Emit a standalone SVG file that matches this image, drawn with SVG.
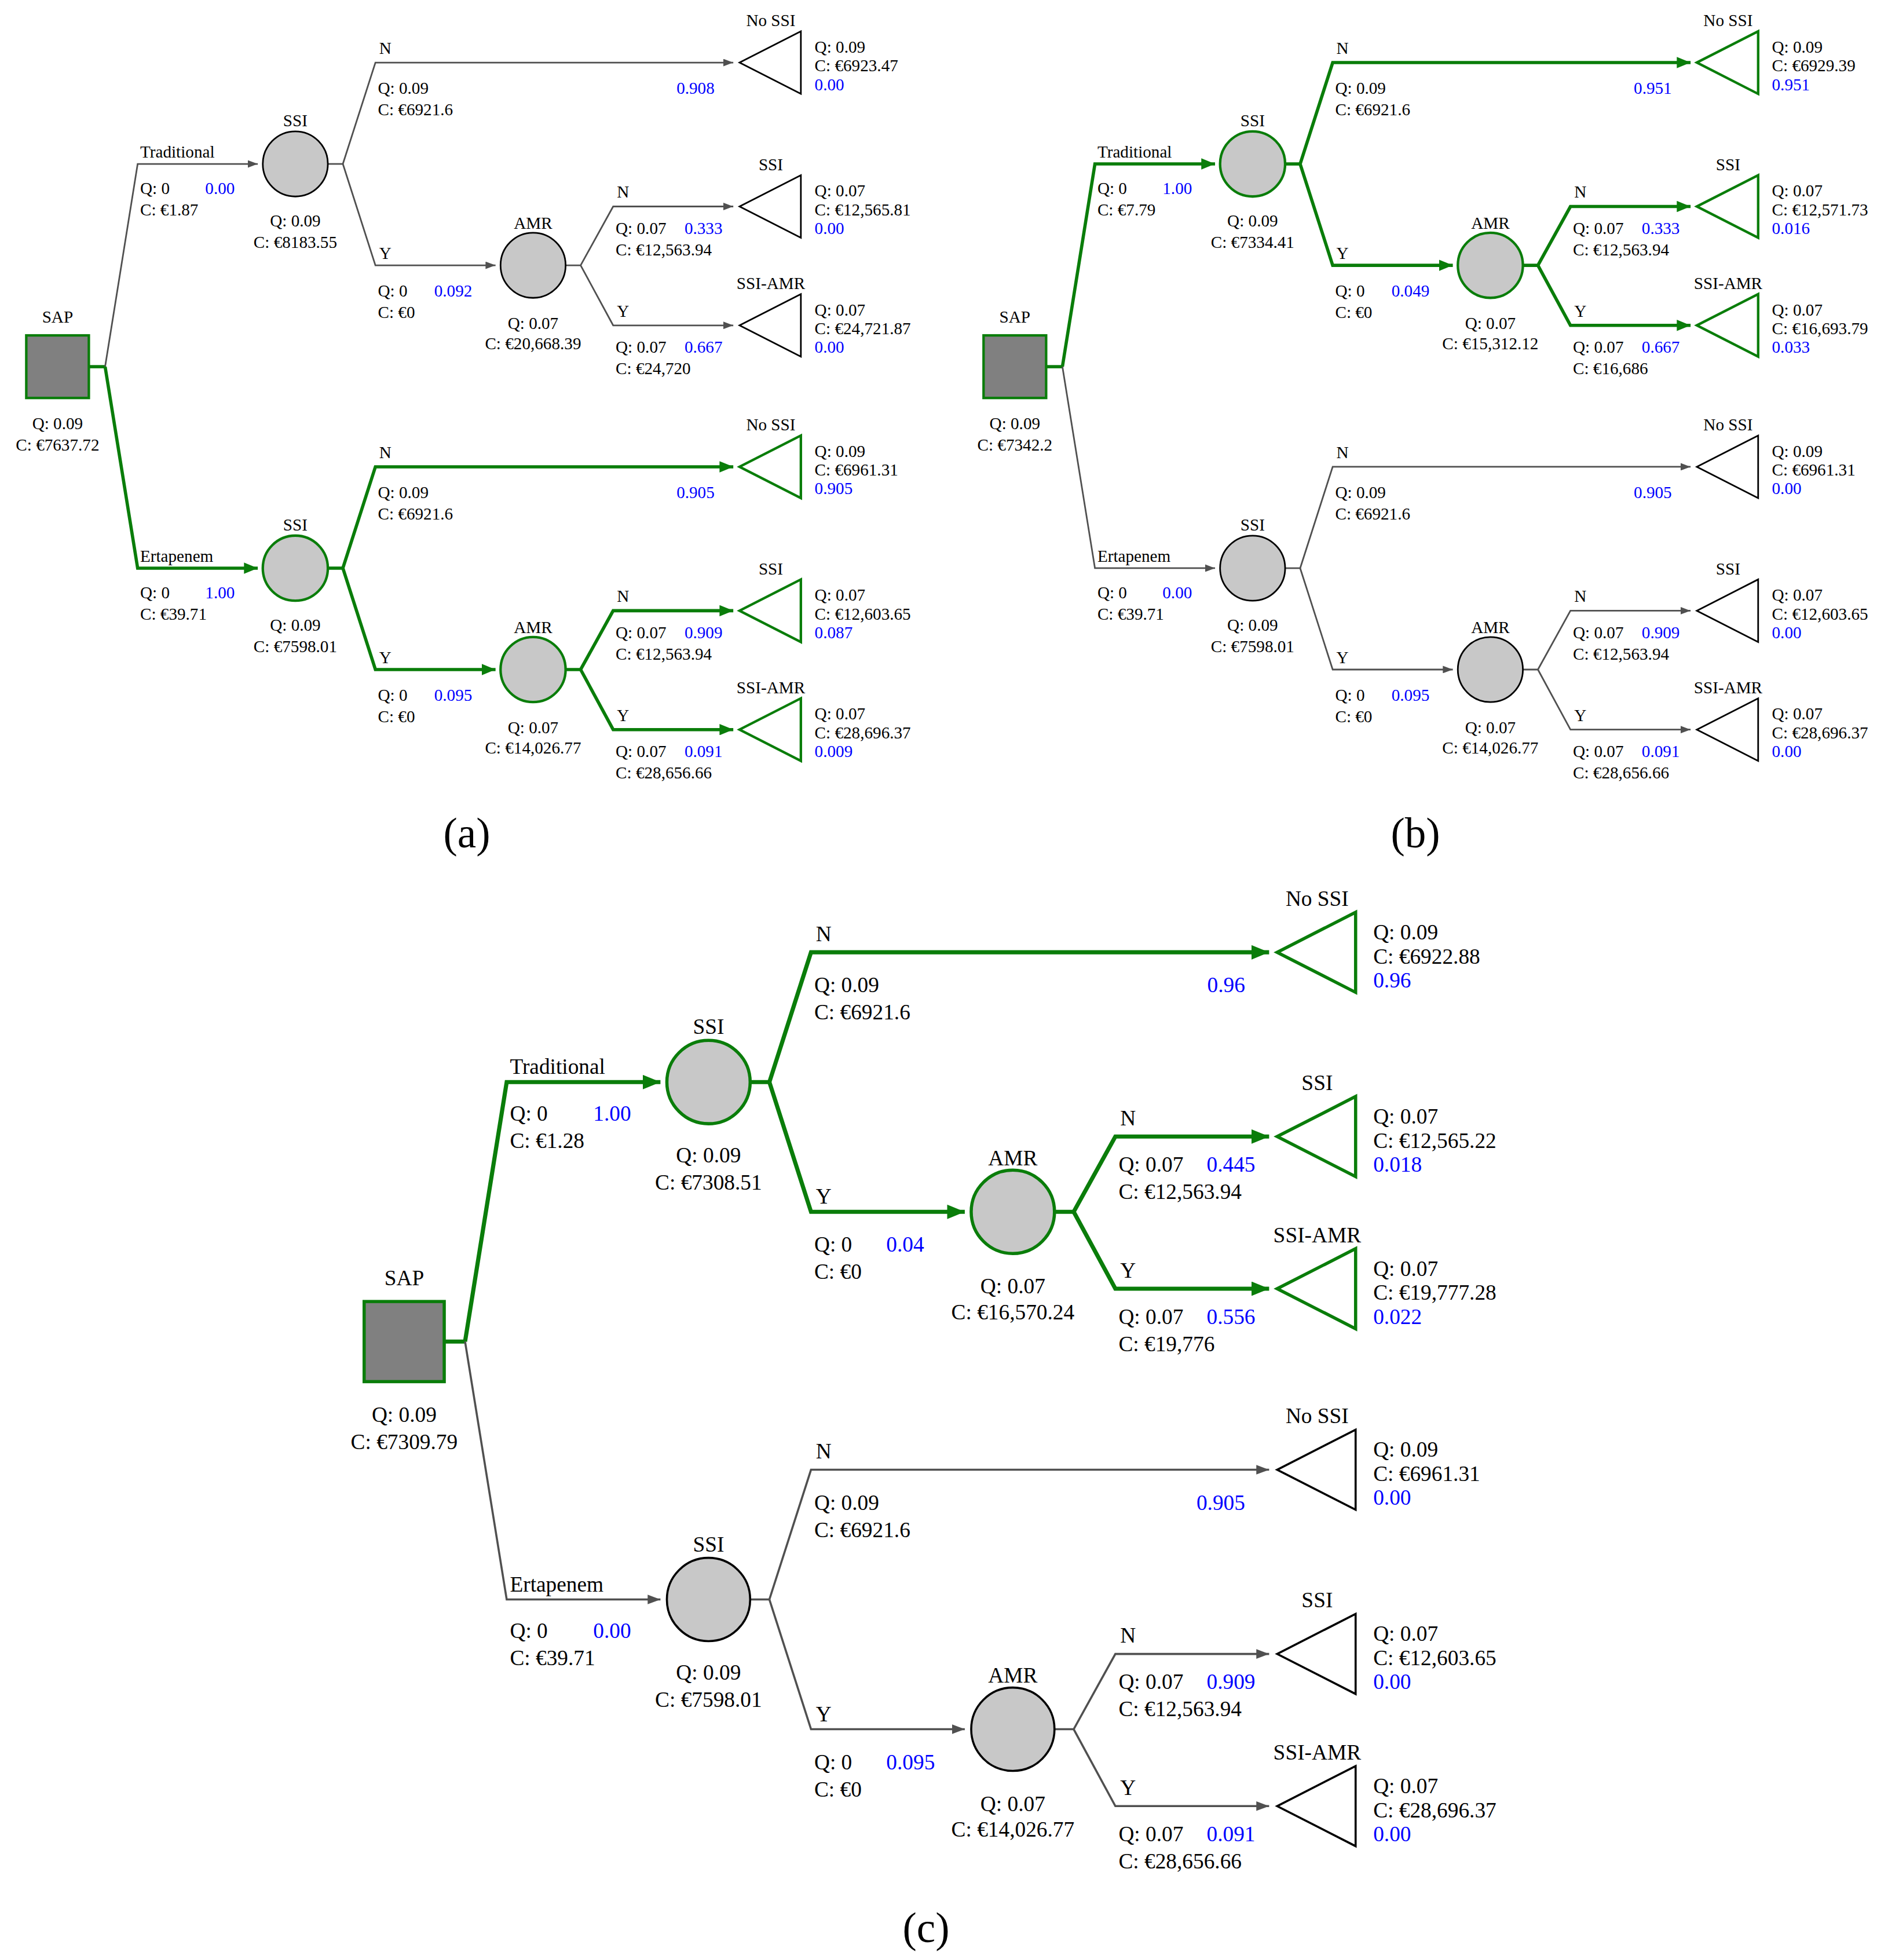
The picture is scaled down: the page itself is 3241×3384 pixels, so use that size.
<svg xmlns="http://www.w3.org/2000/svg" width="3241" height="3384" viewBox="0 0 3241 3384">
<style>
text{font-family:"Liberation Serif","Times New Roman",serif;font-size:13.5px;fill:#000}
.bl{fill:#0000ff}
.m{text-anchor:middle}
.e{text-anchor:end}
.k{fill:none;stroke:#505050;stroke-width:1.3}
.ka{fill:none;stroke:#505050;stroke-width:1.3;marker-end:url(#ak)}
.g{fill:none;stroke:#0a7d0a;stroke-width:2.6}
.ga{fill:none;stroke:#0a7d0a;stroke-width:2.6;marker-end:url(#ag)}
.ck{fill:#c8c8c8;stroke:#000;stroke-width:1.3}
.cg{fill:#c8c8c8;stroke:#0a7d0a;stroke-width:2}
.tk{fill:#fff;stroke:#000;stroke-width:1.3}
.tg{fill:#fff;stroke:#0a7d0a;stroke-width:2}
.sq{fill:#808080;stroke:#0a7d0a;stroke-width:2}
.pl{font-size:73px}
</style>
<defs>
<marker id="ak" viewBox="0 0 10 10" refX="10" refY="5" markerWidth="8" markerHeight="6" markerUnits="userSpaceOnUse" orient="auto" preserveAspectRatio="none"><path d="M0,0L10,5L0,10z" fill="#505050"/></marker>
<marker id="ag" viewBox="0 0 10 10" refX="10" refY="5" markerWidth="11" markerHeight="9" markerUnits="userSpaceOnUse" orient="auto" preserveAspectRatio="none"><path d="M0,0L10,5L0,10z" fill="#0a7d0a"/></marker>
</defs>
<rect width="3241" height="3384" fill="#fff"/>

<!-- PANEL A -->
<g id="panel-a" transform="scale(2.1607) translate(46,293)">
<g id="a-connectors">
<path class="g" d="M25,0L38,0"/>
<path class="ka" d="M38,0L64,-162L160,-162"/>
<path class="k" d="M216,-162L228,-162"/>
<path class="ka" d="M228,-162L254,-243L540,-243"/>
<path class="ka" d="M228,-162L254,-81L350,-81"/>
<path class="ka" d="M406,-81L418,-81L444,-128L540,-128"/>
<path class="ka" d="M418,-81L444,-33L540,-33"/>
<path class="ga" d="M38,0L64,161L160,161"/>
<path class="g" d="M216,161L228,161"/>
<path class="ga" d="M228,161L254,80L540,80"/>
<path class="ga" d="M228,161L254,242L350,242"/>
<path class="ga" d="M406,242L418,242L444,195L540,195"/>
<path class="ga" d="M418,242L444,290L540,290"/>
</g>
<g id="a-sap"><rect class="sq" x="-25" y="-25" width="50" height="50"/><text class="m" x="0" y="-35">SAP</text><text class="m" x="0" y="50">Q: 0.09</text><text class="m" x="0" y="67">C: €7637.72</text></g>
<g id="a-trad"><text x="66" y="-167">Traditional</text><text x="66" y="-138">Q: 0</text><text class="bl" x="118" y="-138">0.00</text><text x="66" y="-121">C: €1.87</text></g>
<g id="a-ssi1"><circle class="ck" cx="190" cy="-162" r="26"/><text class="m" x="190" y="-192">SSI</text><text class="m" x="190" y="-112">Q: 0.09</text><text class="m" x="190" y="-95">C: €8183.55</text></g>
<g id="a-n1"><text x="257" y="-250">N</text><text x="256" y="-218">Q: 0.09</text><text x="256" y="-201">C: €6921.6</text><text class="bl e" x="525" y="-218">0.908</text></g>
<g id="a-t1"><polygon class="tk" points="545,-243 594,-268 594,-218"/><text class="m" x="570" y="-272">No SSI</text><text x="605" y="-251">Q: 0.09</text><text x="605" y="-236">C: €6923.47</text><text class="bl" x="605" y="-221">0.00</text></g>
<g id="a-y1"><text x="257" y="-86">Y</text><text x="256" y="-56">Q: 0</text><text class="bl" x="301" y="-56">0.092</text><text x="256" y="-39">C: €0</text></g>
<g id="a-amr1"><circle class="ck" cx="380" cy="-81" r="26"/><text class="m" x="380" y="-110">AMR</text><text class="m" x="380" y="-30">Q: 0.07</text><text class="m" x="380" y="-14">C: €20,668.39</text></g>
<g id="a-an1"><text x="447" y="-135">N</text><text x="446" y="-106">Q: 0.07</text><text class="bl" x="501" y="-106">0.333</text><text x="446" y="-89">C: €12,563.94</text></g>
<g id="a-t2"><polygon class="tk" points="545,-128 594,-153 594,-103"/><text class="m" x="570" y="-157">SSI</text><text x="605" y="-136">Q: 0.07</text><text x="605" y="-121">C: €12,565.81</text><text class="bl" x="605" y="-106">0.00</text></g>
<g id="a-ay1"><text x="447" y="-40">Y</text><text x="446" y="-11">Q: 0.07</text><text class="bl" x="501" y="-11">0.667</text><text x="446" y="6">C: €24,720</text></g>
<g id="a-t3"><polygon class="tk" points="545,-33 594,-58 594,-8"/><text class="m" x="570" y="-62">SSI-AMR</text><text x="605" y="-41">Q: 0.07</text><text x="605" y="-26">C: €24,721.87</text><text class="bl" x="605" y="-11">0.00</text></g>
<g id="a-erta"><text x="66" y="156">Ertapenem</text><text x="66" y="185">Q: 0</text><text class="bl" x="118" y="185">1.00</text><text x="66" y="202">C: €39.71</text></g>
<g id="a-ssi2"><circle class="cg" cx="190" cy="161" r="26"/><text class="m" x="190" y="131">SSI</text><text class="m" x="190" y="211">Q: 0.09</text><text class="m" x="190" y="228">C: €7598.01</text></g>
<g id="a-n2"><text x="257" y="73">N</text><text x="256" y="105">Q: 0.09</text><text x="256" y="122">C: €6921.6</text><text class="bl e" x="525" y="105">0.905</text></g>
<g id="a-t4"><polygon class="tg" points="545,80 594,55 594,105"/><text class="m" x="570" y="51">No SSI</text><text x="605" y="72">Q: 0.09</text><text x="605" y="87">C: €6961.31</text><text class="bl" x="605" y="102">0.905</text></g>
<g id="a-y2"><text x="257" y="237">Y</text><text x="256" y="267">Q: 0</text><text class="bl" x="301" y="267">0.095</text><text x="256" y="284">C: €0</text></g>
<g id="a-amr2"><circle class="cg" cx="380" cy="242" r="26"/><text class="m" x="380" y="213">AMR</text><text class="m" x="380" y="293">Q: 0.07</text><text class="m" x="380" y="309">C: €14,026.77</text></g>
<g id="a-an2"><text x="447" y="188">N</text><text x="446" y="217">Q: 0.07</text><text class="bl" x="501" y="217">0.909</text><text x="446" y="234">C: €12,563.94</text></g>
<g id="a-t5"><polygon class="tg" points="545,195 594,170 594,220"/><text class="m" x="570" y="166">SSI</text><text x="605" y="187">Q: 0.07</text><text x="605" y="202">C: €12,603.65</text><text class="bl" x="605" y="217">0.087</text></g>
<g id="a-ay2"><text x="447" y="283">Y</text><text x="446" y="312">Q: 0.07</text><text class="bl" x="501" y="312">0.091</text><text x="446" y="329">C: €28,656.66</text></g>
<g id="a-t6"><polygon class="tg" points="545,290 594,265 594,315"/><text class="m" x="570" y="261">SSI-AMR</text><text x="605" y="282">Q: 0.07</text><text x="605" y="297">C: €28,696.37</text><text class="bl" x="605" y="312">0.009</text></g>
</g>

<!-- PANEL B -->
<g id="panel-b" transform="scale(2.1607) translate(811,293)">
<g id="b-connectors">
<path class="g" d="M25,0L38,0"/>
<path class="ga" d="M38,0L64,-162L160,-162"/>
<path class="g" d="M216,-162L228,-162"/>
<path class="ga" d="M228,-162L254,-243L540,-243"/>
<path class="ga" d="M228,-162L254,-81L350,-81"/>
<path class="ga" d="M406,-81L418,-81L444,-128L540,-128"/>
<path class="ga" d="M418,-81L444,-33L540,-33"/>
<path class="ka" d="M38,0L64,161L160,161"/>
<path class="k" d="M216,161L228,161"/>
<path class="ka" d="M228,161L254,80L540,80"/>
<path class="ka" d="M228,161L254,242L350,242"/>
<path class="ka" d="M406,242L418,242L444,195L540,195"/>
<path class="ka" d="M418,242L444,290L540,290"/>
</g>
<g id="b-sap"><rect class="sq" x="-25" y="-25" width="50" height="50"/><text class="m" x="0" y="-35">SAP</text><text class="m" x="0" y="50">Q: 0.09</text><text class="m" x="0" y="67">C: €7342.2</text></g>
<g id="b-trad"><text x="66" y="-167">Traditional</text><text x="66" y="-138">Q: 0</text><text class="bl" x="118" y="-138">1.00</text><text x="66" y="-121">C: €7.79</text></g>
<g id="b-ssi1"><circle class="cg" cx="190" cy="-162" r="26"/><text class="m" x="190" y="-192">SSI</text><text class="m" x="190" y="-112">Q: 0.09</text><text class="m" x="190" y="-95">C: €7334.41</text></g>
<g id="b-n1"><text x="257" y="-250">N</text><text x="256" y="-218">Q: 0.09</text><text x="256" y="-201">C: €6921.6</text><text class="bl e" x="525" y="-218">0.951</text></g>
<g id="b-t1"><polygon class="tg" points="545,-243 594,-268 594,-218"/><text class="m" x="570" y="-272">No SSI</text><text x="605" y="-251">Q: 0.09</text><text x="605" y="-236">C: €6929.39</text><text class="bl" x="605" y="-221">0.951</text></g>
<g id="b-y1"><text x="257" y="-86">Y</text><text x="256" y="-56">Q: 0</text><text class="bl" x="301" y="-56">0.049</text><text x="256" y="-39">C: €0</text></g>
<g id="b-amr1"><circle class="cg" cx="380" cy="-81" r="26"/><text class="m" x="380" y="-110">AMR</text><text class="m" x="380" y="-30">Q: 0.07</text><text class="m" x="380" y="-14">C: €15,312.12</text></g>
<g id="b-an1"><text x="447" y="-135">N</text><text x="446" y="-106">Q: 0.07</text><text class="bl" x="501" y="-106">0.333</text><text x="446" y="-89">C: €12,563.94</text></g>
<g id="b-t2"><polygon class="tg" points="545,-128 594,-153 594,-103"/><text class="m" x="570" y="-157">SSI</text><text x="605" y="-136">Q: 0.07</text><text x="605" y="-121">C: €12,571.73</text><text class="bl" x="605" y="-106">0.016</text></g>
<g id="b-ay1"><text x="447" y="-40">Y</text><text x="446" y="-11">Q: 0.07</text><text class="bl" x="501" y="-11">0.667</text><text x="446" y="6">C: €16,686</text></g>
<g id="b-t3"><polygon class="tg" points="545,-33 594,-58 594,-8"/><text class="m" x="570" y="-62">SSI-AMR</text><text x="605" y="-41">Q: 0.07</text><text x="605" y="-26">C: €16,693.79</text><text class="bl" x="605" y="-11">0.033</text></g>
<g id="b-erta"><text x="66" y="156">Ertapenem</text><text x="66" y="185">Q: 0</text><text class="bl" x="118" y="185">0.00</text><text x="66" y="202">C: €39.71</text></g>
<g id="b-ssi2"><circle class="ck" cx="190" cy="161" r="26"/><text class="m" x="190" y="131">SSI</text><text class="m" x="190" y="211">Q: 0.09</text><text class="m" x="190" y="228">C: €7598.01</text></g>
<g id="b-n2"><text x="257" y="73">N</text><text x="256" y="105">Q: 0.09</text><text x="256" y="122">C: €6921.6</text><text class="bl e" x="525" y="105">0.905</text></g>
<g id="b-t4"><polygon class="tk" points="545,80 594,55 594,105"/><text class="m" x="570" y="51">No SSI</text><text x="605" y="72">Q: 0.09</text><text x="605" y="87">C: €6961.31</text><text class="bl" x="605" y="102">0.00</text></g>
<g id="b-y2"><text x="257" y="237">Y</text><text x="256" y="267">Q: 0</text><text class="bl" x="301" y="267">0.095</text><text x="256" y="284">C: €0</text></g>
<g id="b-amr2"><circle class="ck" cx="380" cy="242" r="26"/><text class="m" x="380" y="213">AMR</text><text class="m" x="380" y="293">Q: 0.07</text><text class="m" x="380" y="309">C: €14,026.77</text></g>
<g id="b-an2"><text x="447" y="188">N</text><text x="446" y="217">Q: 0.07</text><text class="bl" x="501" y="217">0.909</text><text x="446" y="234">C: €12,563.94</text></g>
<g id="b-t5"><polygon class="tk" points="545,195 594,170 594,220"/><text class="m" x="570" y="166">SSI</text><text x="605" y="187">Q: 0.07</text><text x="605" y="202">C: €12,603.65</text><text class="bl" x="605" y="217">0.00</text></g>
<g id="b-ay2"><text x="447" y="283">Y</text><text x="446" y="312">Q: 0.07</text><text class="bl" x="501" y="312">0.091</text><text x="446" y="329">C: €28,656.66</text></g>
<g id="b-t6"><polygon class="tk" points="545,290 594,265 594,315"/><text class="m" x="570" y="261">SSI-AMR</text><text x="605" y="282">Q: 0.07</text><text x="605" y="297">C: €28,696.37</text><text class="bl" x="605" y="312">0.00</text></g>
</g>

<!-- PANEL C -->
<g id="panel-c" transform="scale(2.1607) translate(323,1072) scale(1.28)">
<g id="c-connectors">
<path class="g" d="M25,0L38,0"/>
<path class="ga" d="M38,0L64,-162L160,-162"/>
<path class="g" d="M216,-162L228,-162"/>
<path class="ga" d="M228,-162L254,-243L540,-243"/>
<path class="ga" d="M228,-162L254,-81L350,-81"/>
<path class="ga" d="M406,-81L418,-81L444,-128L540,-128"/>
<path class="ga" d="M418,-81L444,-33L540,-33"/>
<path class="ka" d="M38,0L64,161L160,161"/>
<path class="k" d="M216,161L228,161"/>
<path class="ka" d="M228,161L254,80L540,80"/>
<path class="ka" d="M228,161L254,242L350,242"/>
<path class="ka" d="M406,242L418,242L444,195L540,195"/>
<path class="ka" d="M418,242L444,290L540,290"/>
</g>
<g id="c-sap"><rect class="sq" x="-25" y="-25" width="50" height="50"/><text class="m" x="0" y="-35">SAP</text><text class="m" x="0" y="50">Q: 0.09</text><text class="m" x="0" y="67">C: €7309.79</text></g>
<g id="c-trad"><text x="66" y="-167">Traditional</text><text x="66" y="-138">Q: 0</text><text class="bl" x="118" y="-138">1.00</text><text x="66" y="-121">C: €1.28</text></g>
<g id="c-ssi1"><circle class="cg" cx="190" cy="-162" r="26"/><text class="m" x="190" y="-192">SSI</text><text class="m" x="190" y="-112">Q: 0.09</text><text class="m" x="190" y="-95">C: €7308.51</text></g>
<g id="c-n1"><text x="257" y="-250">N</text><text x="256" y="-218">Q: 0.09</text><text x="256" y="-201">C: €6921.6</text><text class="bl e" x="525" y="-218">0.96</text></g>
<g id="c-t1"><polygon class="tg" points="545,-243 594,-268 594,-218"/><text class="m" x="570" y="-272">No SSI</text><text x="605" y="-251">Q: 0.09</text><text x="605" y="-236">C: €6922.88</text><text class="bl" x="605" y="-221">0.96</text></g>
<g id="c-y1"><text x="257" y="-86">Y</text><text x="256" y="-56">Q: 0</text><text class="bl" x="301" y="-56">0.04</text><text x="256" y="-39">C: €0</text></g>
<g id="c-amr1"><circle class="cg" cx="380" cy="-81" r="26"/><text class="m" x="380" y="-110">AMR</text><text class="m" x="380" y="-30">Q: 0.07</text><text class="m" x="380" y="-14">C: €16,570.24</text></g>
<g id="c-an1"><text x="447" y="-135">N</text><text x="446" y="-106">Q: 0.07</text><text class="bl" x="501" y="-106">0.445</text><text x="446" y="-89">C: €12,563.94</text></g>
<g id="c-t2"><polygon class="tg" points="545,-128 594,-153 594,-103"/><text class="m" x="570" y="-157">SSI</text><text x="605" y="-136">Q: 0.07</text><text x="605" y="-121">C: €12,565.22</text><text class="bl" x="605" y="-106">0.018</text></g>
<g id="c-ay1"><text x="447" y="-40">Y</text><text x="446" y="-11">Q: 0.07</text><text class="bl" x="501" y="-11">0.556</text><text x="446" y="6">C: €19,776</text></g>
<g id="c-t3"><polygon class="tg" points="545,-33 594,-58 594,-8"/><text class="m" x="570" y="-62">SSI-AMR</text><text x="605" y="-41">Q: 0.07</text><text x="605" y="-26">C: €19,777.28</text><text class="bl" x="605" y="-11">0.022</text></g>
<g id="c-erta"><text x="66" y="156">Ertapenem</text><text x="66" y="185">Q: 0</text><text class="bl" x="118" y="185">0.00</text><text x="66" y="202">C: €39.71</text></g>
<g id="c-ssi2"><circle class="ck" cx="190" cy="161" r="26"/><text class="m" x="190" y="131">SSI</text><text class="m" x="190" y="211">Q: 0.09</text><text class="m" x="190" y="228">C: €7598.01</text></g>
<g id="c-n2"><text x="257" y="73">N</text><text x="256" y="105">Q: 0.09</text><text x="256" y="122">C: €6921.6</text><text class="bl e" x="525" y="105">0.905</text></g>
<g id="c-t4"><polygon class="tk" points="545,80 594,55 594,105"/><text class="m" x="570" y="51">No SSI</text><text x="605" y="72">Q: 0.09</text><text x="605" y="87">C: €6961.31</text><text class="bl" x="605" y="102">0.00</text></g>
<g id="c-y2"><text x="257" y="237">Y</text><text x="256" y="267">Q: 0</text><text class="bl" x="301" y="267">0.095</text><text x="256" y="284">C: €0</text></g>
<g id="c-amr2"><circle class="ck" cx="380" cy="242" r="26"/><text class="m" x="380" y="213">AMR</text><text class="m" x="380" y="293">Q: 0.07</text><text class="m" x="380" y="309">C: €14,026.77</text></g>
<g id="c-an2"><text x="447" y="188">N</text><text x="446" y="217">Q: 0.07</text><text class="bl" x="501" y="217">0.909</text><text x="446" y="234">C: €12,563.94</text></g>
<g id="c-t5"><polygon class="tk" points="545,195 594,170 594,220"/><text class="m" x="570" y="166">SSI</text><text x="605" y="187">Q: 0.07</text><text x="605" y="202">C: €12,603.65</text><text class="bl" x="605" y="217">0.00</text></g>
<g id="c-ay2"><text x="447" y="283">Y</text><text x="446" y="312">Q: 0.07</text><text class="bl" x="501" y="312">0.091</text><text x="446" y="329">C: €28,656.66</text></g>
<g id="c-t6"><polygon class="tk" points="545,290 594,265 594,315"/><text class="m" x="570" y="261">SSI-AMR</text><text x="605" y="282">Q: 0.07</text><text x="605" y="297">C: €28,696.37</text><text class="bl" x="605" y="312">0.00</text></g>
</g>

<text class="pl m" x="806" y="1463">(a)</text>
<text class="pl m" x="2444" y="1463">(b)</text>
<text class="pl m" x="1599" y="3353">(c)</text>
</svg>
